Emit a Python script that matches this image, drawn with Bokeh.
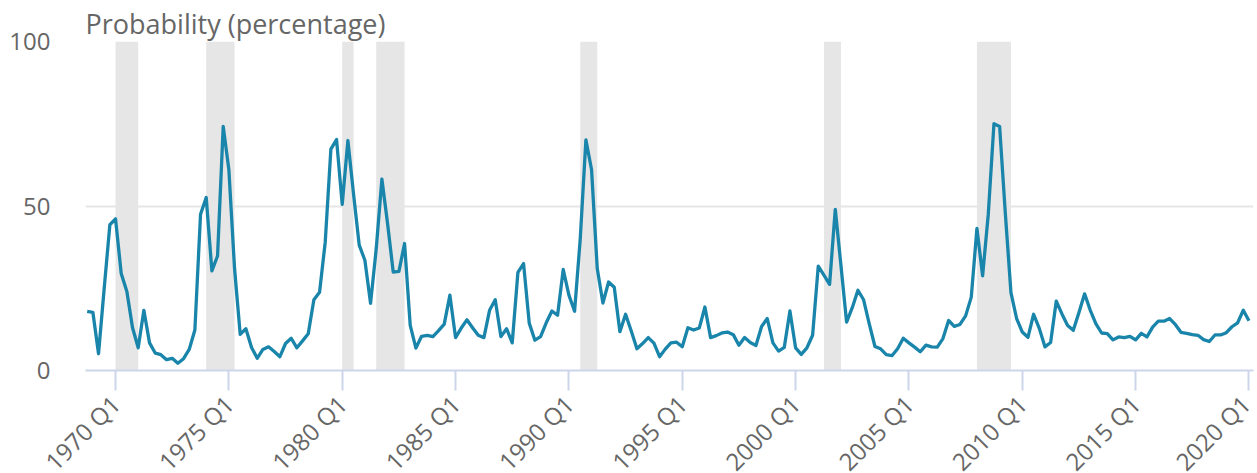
import math
from bokeh.plotting import figure
from bokeh.models import Range1d, FixedTicker
from bokeh.embed import file_html
from bokeh.resources import INLINE

# ---- data -------------------------------------------------------------
all_q = [f"{y} Q{q}" for y in range(1968, 2021) for q in range(1, 5)]
quarters = all_q[all_q.index("1968 Q4"): all_q.index("2020 Q1") + 1]

probability = [
    18.0, 17.7, 5.1, 25.0, 44.3, 46.1, 29.5, 24.0, 13.0, 6.9,
    18.3, 8.4, 5.3, 4.8, 3.3, 3.7, 2.2, 3.6, 6.4, 12.3,
    47.5, 52.6, 30.3, 34.8, 74.2, 61.0, 31.0, 11.0, 12.7, 7.0,
    3.7, 6.4, 7.2, 5.8, 4.2, 8.2, 9.8, 6.9, 9.0, 11.2,
    21.5, 23.8, 39.0, 67.3, 70.2, 50.5, 69.9, 53.6, 38.1, 33.5,
    20.4, 37.0, 58.2, 44.7, 29.9, 30.1, 38.6, 13.7, 6.8, 10.4,
    10.7, 10.3, 12.1, 14.1, 22.9, 10.0, 12.9, 15.4, 13.0, 10.7,
    10.0, 18.3, 21.5, 10.3, 12.7, 8.4, 29.8, 32.5, 14.4, 9.2,
    10.3, 14.5, 18.1, 16.8, 30.7, 22.9, 18.0, 40.0, 70.1, 61.0,
    31.0, 20.5, 26.9, 25.3, 11.8, 17.1, 12.0, 6.6, 8.2, 10.0,
    8.3, 4.2, 6.5, 8.4, 8.6, 7.2, 13.0, 12.3, 12.9, 19.3,
    10.0, 10.6, 11.4, 11.7, 10.9, 7.7, 10.0, 8.5, 7.6, 13.4,
    15.8, 8.4, 5.9, 7.0, 18.1, 6.9, 4.9, 6.9, 10.7, 31.7,
    29.0, 26.2, 49.0, 32.0, 14.7, 19.1, 24.4, 21.5, 14.2, 7.3,
    6.6, 4.8, 4.5, 6.6, 9.8, 8.4, 7.1, 5.7, 7.7, 7.2,
    7.1, 9.7, 15.2, 13.4, 14.0, 16.6, 22.3, 43.2, 28.8, 47.5,
    75.0, 74.2, 48.0, 23.7, 15.8, 11.7, 10.1, 17.1, 12.8, 7.2,
    8.5, 21.1, 17.2, 13.7, 12.2, 17.6, 23.3, 18.3, 14.2, 11.4,
    11.2, 9.3, 10.2, 10.0, 10.4, 9.3, 11.3, 10.2, 13.2, 15.0,
    15.0, 15.8, 14.0, 11.6, 11.3, 10.9, 10.7, 9.4, 8.8, 10.8,
    10.8, 11.5, 13.3, 14.5, 18.3, 15.1,
]

tick_labels = ["1970 Q1", "1975 Q1", "1980 Q1", "1985 Q1", "1990 Q1", "1995 Q1",
               "2000 Q1", "2005 Q1", "2010 Q1", "2015 Q1", "2020 Q1"]
y_ticks = [0, 50, 100]

rec_start = ["1970 Q1", "1974 Q1", "1980 Q1", "1981 Q3", "1990 Q3", "2001 Q2", "2008 Q1"]
rec_end = ["1971 Q1", "1975 Q2", "1980 Q3", "1982 Q4", "1991 Q2", "2002 Q1", "2009 Q3"]

# ---- figure -----------------------------------------------------------
TEXT = "#666666"
FONT = "Open Sans"

p = figure(width=1257, height=500, output_backend="svg", toolbar_location=None,
           x_range=Range1d(-0.3, 205.8), y_range=Range1d(0, 100),
           min_border_left=85, min_border_right=4, min_border_top=41,
           min_border_bottom=130)
p.outline_line_color = None
p.background_fill_color = "white"
p.border_fill_color = "white"

p.title.text = "Probability (percentage)"
p.title.align = "left"
p.title.text_font = FONT
p.title.text_font_size = "27px"
p.title.text_font_style = "normal"
p.title.text_color = TEXT
p.title.standoff = 0
p.title.offset = 0

idx = {q: i for i, q in enumerate(quarters)}

p.quad(left=[idx[s] for s in rec_start], right=[idx[e] for e in rec_end],
       bottom=0, top=100, fill_color="#e6e6e6", line_color=None)

p.line(x=list(range(len(probability))), y=probability, line_color="#1a85ab",
       line_width=3.3, line_join="round")

# grid
p.xgrid.grid_line_color = None
p.ygrid.ticker = FixedTicker(ticks=y_ticks)
p.ygrid.grid_line_color = "#e6e6e6"
p.ygrid.grid_line_width = 2

# y axis
ya = p.yaxis[0]
ya.ticker = FixedTicker(ticks=y_ticks)
ya.axis_line_color = None
ya.major_tick_line_color = None
ya.minor_tick_line_color = None
ya.major_label_standoff = 29
ya.major_label_text_font = FONT
ya.major_label_text_font_size = "24px"
ya.major_label_text_color = TEXT

# x axis
xa = p.xaxis[0]
tick_idx = [idx[t] for t in tick_labels]
xa.ticker = FixedTicker(ticks=tick_idx)
xa.major_label_overrides = {i: t for i, t in zip(tick_idx, tick_labels)}
xa.major_label_orientation = math.pi / 4
xa.axis_line_color = "#ccd6eb"
xa.axis_line_width = 2
xa.major_tick_line_color = "#ccd6eb"
xa.major_tick_line_width = 2
xa.major_tick_out = 20
xa.major_tick_in = 0
xa.minor_tick_line_color = None
xa.major_label_standoff = 9
xa.major_label_text_font = FONT
xa.major_label_text_font_size = "24px"
xa.major_label_text_color = TEXT

open("out.html", "w").write(file_html(p, INLINE))
